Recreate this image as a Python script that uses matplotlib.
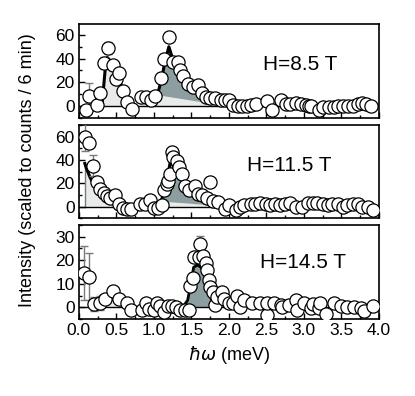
import matplotlib
matplotlib.use("Agg")
import matplotlib.pyplot as plt
from matplotlib.ticker import MultipleLocator

plt.rcParams['font.family'] = ['Liberation Sans', 'DejaVu Sans']
plt.rcParams['mathtext.fontset'] = 'dejavusans'

DARK = "#8c9ea0"
LIGHT = "#e9ebeb"

# ── H = 8.5 T ────────────────────────────────────────────────────────────────
x1 = [0.09, 0.14, 0.24, 0.28, 0.33, 0.39, 0.45, 0.50, 0.54, 0.59, 0.64, 0.71,
      0.83, 0.89, 0.96, 1.02, 1.09, 1.14, 1.20, 1.26, 1.32, 1.35, 1.39, 1.46,
      1.52, 1.59, 1.64, 1.69, 1.75, 1.82, 1.89, 1.95, 2.00, 2.06, 2.12, 2.17,
      2.24, 2.30, 2.36, 2.51, 2.58, 2.69, 2.76, 2.82, 2.90, 2.96, 3.03, 3.07,
      3.10, 3.20, 3.26, 3.33, 3.40, 3.46, 3.52, 3.59, 3.66, 3.72, 3.78, 3.83, 3.90]
y1 = [-3, 8.5, 1, 11, 36, 49, 35, 23, 28, 13, 3.6, -2,
      7.6, 7.6, 5, 8.5, 24, 40, 58, 37, 37, 30, 25, 19,
      16, 18, 11, 8, 7, 7, 5, 5, 5, 1, 0, 0,
      0, 1, 2, 4, -3, 5, 2, 2, 3, 2, 1, 0,
      0, -3, -1, -1, -1, 0, 0, 0, 0, 2, 3, 2, 0]
err1_x = [0.14, 0.33, 0.39]
err1_y = [8.5, 36, 49]
err1_e = [11, 5, 5]

low1_x = [0.28, 0.31, 0.35, 0.38, 0.42, 0.48, 0.55, 0.62, 0.68, 0.72]
low1_y = [0, 2, 30, 41, 38, 30, 20, 10, 3, 0]
pk1_x = [0.78, 0.90, 1.00, 1.05, 1.10, 1.15, 1.20, 1.25, 1.30, 1.40, 1.50,
         1.60, 1.70, 1.80, 1.90, 2.10]
pk1_y = [0, 5, 8, 10, 22, 38, 50, 40, 35, 27, 19, 12, 6, 2, 1.5, 0]
bg1_y = [0, 5, 8, 8.5, 9, 8.5, 8, 7.5, 7, 6, 5, 4, 3, 2, 1.5, 0]

# ── H = 11.5 T ───────────────────────────────────────────────────────────────
x2 = [0.08, 0.14, 0.19, 0.24, 0.28, 0.33, 0.37, 0.41, 0.48, 0.53, 0.59, 0.64,
      0.70, 0.82, 0.88, 0.95, 1.00, 1.05, 1.11, 1.14, 1.17, 1.19, 1.22, 1.24,
      1.26, 1.31, 1.33, 1.38, 1.42, 1.47, 1.55, 1.59, 1.64, 1.71, 1.75, 1.79,
      1.86, 1.95, 2.00, 2.09, 2.15, 2.20, 2.29, 2.35, 2.42, 2.49, 2.55, 2.62,
      2.68, 2.75, 2.82, 2.89, 2.98, 3.05, 3.12, 3.18, 3.25, 3.32, 3.38, 3.45,
      3.52, 3.58, 3.65, 3.72, 3.78, 3.85, 3.92]
y2 = [60, 55, 35, 21, 15, 12, 9, 7, 10, 2.5, -1, -2.5,
      -2.5, 2, 2, 6, -1, -1, 1, 14, 19, 22, 28, 47,
      43, 39, 34, 28, 18, 14, 18, 11, 10, 7, 21, 5,
      4, -2, 1, -3, 0, 1, 2, 2, 3, 2, 1, 2,
      1, 2, 3, 0, 0, 3, 3, 3, 2, 1, 2, 2,
      0, 1, 2, 2, 0, 0, -3]
err2_x = [0.08, 0.19, 1.24]
err2_y = [60, 35, 47]
err2_e = [12, 9, 3]

low2_x = [0.08, 0.08, 0.10, 0.15, 0.20, 0.25, 0.30, 0.40, 0.50, 0.60, 0.68]
low2_y = [0, 37, 33, 25, 19, 14, 10, 6, 3, 1, 0]
pk2_x = [1.02, 1.10, 1.15, 1.20, 1.23, 1.28, 1.35, 1.45, 1.55, 1.65, 1.75,
         1.82, 1.90]
pk2_y = [0, 5, 16, 32, 42, 30, 26, 18, 11, 6, 2, 1, 0]
bg2_y = [0, 4, 4, 4, 4, 3.8, 3.5, 3, 2.5, 2, 1, 0.5, 0]

# ── H = 14.5 T ───────────────────────────────────────────────────────────────
x3 = [0.07, 0.14, 0.20, 0.28, 0.35, 0.45, 0.54, 0.64, 0.70, 0.84, 0.89, 0.93,
      1.00, 1.04, 1.08, 1.14, 1.19, 1.24, 1.30, 1.35, 1.41, 1.47, 1.48, 1.52,
      1.53, 1.60, 1.62, 1.66, 1.69, 1.71, 1.73, 1.75, 1.79, 1.82, 1.84, 1.91,
      1.93, 2.00, 2.06, 2.11, 2.15, 2.20, 2.31, 2.42, 2.51, 2.51, 2.60, 2.69,
      2.71, 2.80, 2.90, 2.91, 3.00, 3.09, 3.12, 3.20, 3.22, 3.30, 3.40, 3.49,
      3.58, 3.67, 3.76, 3.80, 3.92]
y3 = [14.5, 13, 1.5, 2, 3.5, 7, 3.5, 1.7, -1, -1, 1.7, -0.5,
      -1, 1.7, 0.4, -2, 0.4, 0.4, 0, -1, -1, -1, 9, 12.5,
      21.5, 21.5, 27, 22, 19, 16, 11.5, 8.5, 6.5, 1, 4.5, 6.5,
      3.5, 2, 1.7, 5, 0, 3, 1.7, 1.7, -3.4, 1.7, 1.7, 1,
      0, 1, 3, -1.3, 1.7, -0.4, 1.3, -0.4, 1.7, -3, 1.7, 0.4,
      0, 0, -0.4, -1.7, 0.4]
err3_x = [0.07, 0.14, 0.20, 0.28, 1.62]
err3_y = [14.5, 13, 1.5, 2, 27]
err3_e = [11.5, 10, 3, 3, 3.5]

low3_x = [0.20, 0.25, 0.30, 0.35, 0.40, 0.45, 0.50, 0.55, 0.62, 0.70]
low3_y = [0, 3, 5, 5, 4.5, 3.5, 2.5, 1.5, 0.7, 0]
pk3_x = [1.38, 1.45, 1.50, 1.53, 1.58, 1.63, 1.68, 1.73, 1.78, 1.82]
pk3_y = [0, 3, 11, 17, 18, 17, 14, 8, 2, 0]

labels = ["H=8.5 T", "H=11.5 T", "H=14.5 T"]


def style_axis(ax, ylim, ymajor, yminor, show_x):
    ax.set_xlim(0, 4.0)
    ax.set_ylim(*ylim)
    ax.xaxis.set_major_locator(MultipleLocator(0.5))
    ax.xaxis.set_minor_locator(MultipleLocator(0.25))
    ax.yaxis.set_major_locator(MultipleLocator(ymajor))
    ax.yaxis.set_minor_locator(MultipleLocator(yminor))
    ax.tick_params(which="both", direction="in", top=False, right=False,
                   labelsize=12.5, width=1.0, pad=3)
    ax.tick_params(which="major", length=4)
    ax.tick_params(which="minor", length=2.5)
    if show_x:
        ax.xaxis.set_major_formatter(plt.FuncFormatter(lambda v, p: f"{v:.1f}"))
    else:
        ax.tick_params(axis="x", labelbottom=False)
    for s in ax.spines.values():
        s.set_linewidth(1.2)
    ax.axhline(0, color="black", lw=1.0, zorder=2)


def draw_points(ax, x, y, ex, ey, ee):
    ax.errorbar(ex, ey, yerr=ee, fmt="none", ecolor="#7a7a7a", elinewidth=1.0,
                capsize=3, capthick=1.0, zorder=3)
    ax.plot(x, y, "o", ms=9.5, mfc="white", mec="black", mew=0.9, zorder=4)


fig = plt.figure(figsize=(4.15, 3.96), dpi=100)
ax1 = fig.add_axes([0.19, 0.702, 0.723, 0.237])
ax2 = fig.add_axes([0.19, 0.449, 0.723, 0.235])
ax3 = fig.add_axes([0.19, 0.194, 0.723, 0.238])

# panel 1
ax1.fill_between(low1_x, 0, low1_y, color=LIGHT, lw=0, zorder=1)
ax1.plot(low1_x, low1_y, color="black", lw=2.2, zorder=2)
ax1.fill_between(pk1_x, 0, bg1_y, color=LIGHT, lw=0, zorder=1)
ax1.fill_between(pk1_x, bg1_y, pk1_y, where=[p >= b for p, b in zip(pk1_y, bg1_y)],
                 color=DARK, lw=0, zorder=1)
ax1.plot(pk1_x[3:8], pk1_y[3:8], color="black", lw=2.2, zorder=2)
draw_points(ax1, x1, y1, err1_x, err1_y, err1_e)
style_axis(ax1, (-10, 69), 20, 10, False)

# panel 2
ax2.fill_between(low2_x, 0, low2_y, color=LIGHT, lw=0, zorder=1)
ax2.plot(low2_x[:2], low2_y[:2], color="#7a7a7a", lw=1.0, zorder=2)
ax2.plot(low2_x[1:9], low2_y[1:9], color="black", lw=2.2, zorder=2)
ax2.fill_between(pk2_x, 0, bg2_y, color=LIGHT, lw=0, zorder=1)
ax2.fill_between(pk2_x, bg2_y, pk2_y, color=DARK, lw=0, zorder=1)
ax2.plot(pk2_x[1:6], pk2_y[1:6], color="black", lw=2.2, zorder=2)
draw_points(ax2, x2, y2, err2_x, err2_y, err2_e)
style_axis(ax2, (-10, 70), 20, 10, False)

# panel 3
ax3.fill_between(low3_x, 0, low3_y, color=LIGHT, lw=0, zorder=1)
ax3.plot(low3_x[1:8], low3_y[1:8], color="black", lw=2.2, zorder=2)
ax3.fill_between(pk3_x, 0, pk3_y, color=DARK, lw=0, zorder=1)
ax3.plot(pk3_x, pk3_y, color="black", lw=2.0, zorder=2)
draw_points(ax3, x3, y3, err3_x, err3_y, err3_e)
style_axis(ax3, (-5, 35), 10, 5, True)

for ax, lab, pos in zip([ax1, ax2, ax3], labels,
                        [(0.737, 0.574), (0.70, 0.57), (0.747, 0.606)]):
    ax.text(pos[0], pos[1], lab, transform=ax.transAxes, ha="center",
            va="center", fontsize=15)

ax3.set_xlabel(r"$\hbar\omega$ (meV)", fontsize=13, labelpad=4)
fig.text(0.066, 0.571, "Intensity (scaled to counts / 6 min)", rotation=90,
         ha="center", va="center", fontsize=13)

fig.savefig("out.png", dpi=100)
